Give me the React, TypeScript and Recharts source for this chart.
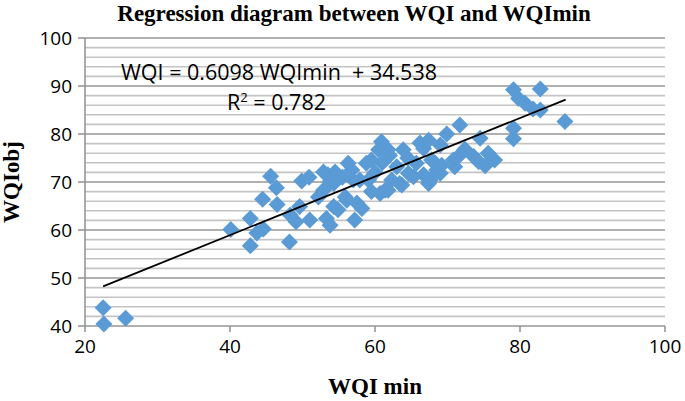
import React from 'react';
import { ScatterChart, Scatter, XAxis, YAxis, ReferenceLine, Label } from 'recharts';

const wqiMin = [
  22.5, 22.6, 25.6,
  40.1, 42.8, 42.8, 43.7, 44.6, 44.5, 45.6, 46.4, 46.5, 48.2, 48.3, 49.1, 49.6, 49.9, 50.9, 51.0,
  52.2, 52.9, 53.3, 53.8, 54.3, 53.5, 54.5, 56.3, 52.9, 54.3, 55.9, 53.8, 54.9, 56.1, 57.2, 58.2, 57.5, 57.9, 59.1, 59.5, 60.5, 57.0, 58.8, 55.5, 56.8,
  60.9, 61.4, 62.3, 63.0, 63.9, 64.6, 63.7, 65.7, 66.2, 67.6, 68.3, 61.8, 60.7, 61.8, 63.4, 65.3, 67.4, 68.5, 67.8, 67.4, 69.0, 66.7, 69.2, 69.0, 66.7, 60.0, 61.0, 62.0, 64.5, 59.5,
  69.9, 71.7, 74.5, 72.4, 71.7, 73.6, 75.6, 76.5, 75.2, 74.3, 71.0, 70.8,
  79.1, 82.8, 79.8, 80.7, 81.8, 82.8, 86.2, 79.1, 79.1,
];
const wqiObj = [
  43.8, 40.4, 41.6,
  60.1, 62.4, 56.7, 59.4, 60.2, 66.4, 71.2, 68.8, 65.3, 57.5, 63.1, 61.7, 64.9, 70.2, 71.0, 62.1,
  66.9, 72.1, 62.4, 70.1, 64.9, 71.5, 72.1, 73.9, 68.3, 69.7, 66.9, 61.0, 64.2, 66.2, 62.1, 64.5, 65.6, 70.4, 70.4, 74.6, 76.7, 70.4, 73.9, 71.0, 72.5,
  78.4, 68.3, 70.4, 73.2, 76.7, 71.8, 69.4, 73.9, 78.1, 70.4, 73.9, 76.7, 67.6, 68.3, 69.7, 71.1, 69.7, 72.5, 74.6, 78.7, 77.7, 77.0, 73.5, 71.8, 71.5, 72.0, 74.0, 75.5, 75.0, 68.0,
  80.0, 81.9, 79.1, 76.8, 75.6, 75.3, 76.0, 74.6, 73.4, 74.2, 73.2, 74.6,
  89.2, 89.4, 87.4, 86.4, 85.2, 85.0, 82.6, 81.2, 79.0,
];

const slope = 0.6098;
const intercept = 34.538;
const trendX = [22.5, 86.3];

const xTicks = [20, 40, 60, 80, 100];
const yTicks = [40, 50, 60, 70, 80, 90, 100];
const minorY = [42, 44, 46, 48, 52, 54, 56, 58, 62, 64, 66, 68, 72, 74, 76, 78, 82, 84, 86, 88, 92, 94, 96, 98];
const majorY = [50, 60, 70, 80, 90, 100];

const points = wqiMin.map((x, i) => ({ x, y: wqiObj[i] }));
const trend = trendX.map((x) => ({ x, y: slope * x + intercept }));

const Diamond = (props: any) => {
  const { cx, cy } = props;
  if (cx == null || cy == null) return null;
  const r = 8.5;
  return (
    <polygon
      points={`${cx},${cy - r} ${cx + r},${cy} ${cx},${cy + r} ${cx - r},${cy}`}
      fill="#5B9BD5"
    />
  );
};

const tickFont = { fontFamily: '"Open Sans", sans-serif', fontSize: 19, fill: '#000' };
const serifBold = '"Liberation Serif", "Times New Roman", serif';

export default function App() {
  return (
    <div style={{ position: 'absolute', left: 0, top: 0, width: 685, height: 401, background: '#fff' }}>
      <div
        style={{
          position: 'absolute', left: 0, top: 1, width: 708, textAlign: 'center',
          fontFamily: serifBold, fontWeight: 'bold', fontSize: 23, color: '#000',
        }}
      >
        Regression diagram between WQI and WQImin
      </div>
      <ScatterChart width={685} height={401} margin={{ top: 38, right: 20, bottom: 45, left: 25 }}>
        {minorY.map((v) => (
          <ReferenceLine key={'mn' + v} y={v} stroke="#c4c4c4" strokeWidth={1.6} />
        ))}
        {majorY.map((v) => (
          <ReferenceLine key={'mj' + v} y={v} stroke="#969696" strokeWidth={1.6} />
        ))}
        <XAxis
          type="number"
          dataKey="x"
          domain={[20, 100]}
          ticks={xTicks}
          height={30}
          axisLine={{ stroke: '#969696', strokeWidth: 1.6 }}
          tickLine={{ stroke: '#969696', strokeWidth: 1.6 }}
          tickSize={6}
          tickMargin={8}
          tick={tickFont}
          interval={0}
        >
          <Label
            value="WQI min"
            position="bottom"
            offset={22}
            style={{ fontFamily: serifBold, fontWeight: 'bold', fontSize: 23, fill: '#000' }}
          />
        </XAxis>
        <YAxis
          type="number"
          dataKey="y"
          domain={[40, 100]}
          ticks={yTicks}
          width={60}
          axisLine={{ stroke: '#969696', strokeWidth: 1.6 }}
          tickLine={{ stroke: '#969696', strokeWidth: 1.6 }}
          tickSize={7}
          tickMargin={6}
          tick={tickFont}
          interval={0}
        >
          <Label
            value="WQIobj"
            angle={-90}
            position="insideLeft"
            offset={-14}
            style={{ fontFamily: serifBold, fontWeight: 'bold', fontSize: 23, fill: '#000', textAnchor: 'middle' }}
          />
        </YAxis>
        <Scatter data={points} shape={<Diamond />} isAnimationActive={false} />
        <Scatter
          data={trend}
          line={{ stroke: '#000', strokeWidth: 1.8 }}
          shape={() => null}
          isAnimationActive={false}
        />
      </ScatterChart>
      <div
        style={{
          position: 'absolute', left: 121, top: 57, whiteSpace: 'pre',
          fontFamily: '"Open Sans", sans-serif', fontSize: 21.5, color: '#000',
        }}
      >
        {'WQI = 0.6098 WQImin  + 34.538'}
      </div>
      <div
        style={{
          position: 'absolute', left: 227, top: 87, whiteSpace: 'pre',
          fontFamily: '"Open Sans", sans-serif', fontSize: 21.5, color: '#000',
        }}
      >
        R<sup style={{ fontSize: 13, verticalAlign: 'top', lineHeight: '20px' }}>2</sup> = 0.782
      </div>
    </div>
  );
}
